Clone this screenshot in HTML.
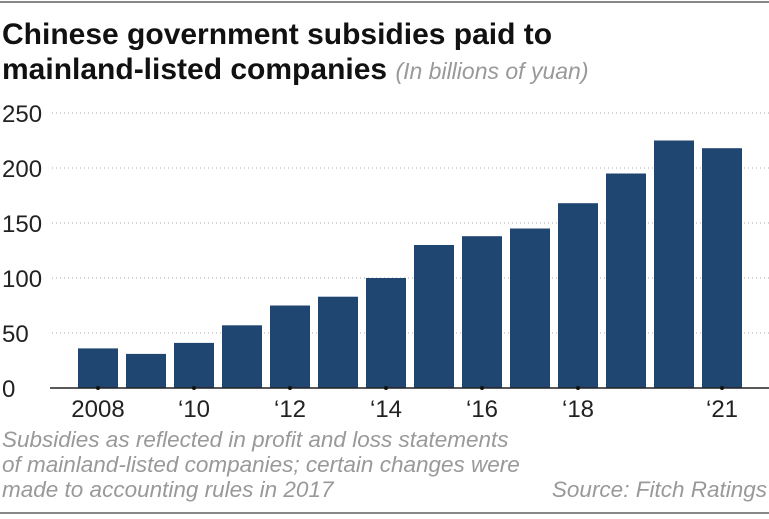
<!DOCTYPE html>
<html><head><meta charset="utf-8"><style>
body{margin:0;background:#fff;width:769px;height:514px;overflow:hidden;font-family:"Liberation Sans",sans-serif;}
</style></head><body>
<svg width="769" height="514" xmlns="http://www.w3.org/2000/svg">
<line x1="0" y1="2" x2="769" y2="2" stroke="#888" stroke-width="2"/>
<text x="2" y="44" font-size="30" font-weight="bold" fill="#111">Chinese government subsidies paid to</text>
<text x="2" y="79" font-size="30" font-weight="bold" fill="#111">mainland-listed companies <tspan font-weight="normal" font-style="italic" font-size="23" fill="#999">(In billions of yuan)</tspan></text>
<g id="grid"></g><g id="bars"></g><g id="xaxis"></g>
<text x="2" y="447" font-size="22.5" font-style="italic" fill="#999">Subsidies as reflected in profit and loss statements</text>
<text x="2" y="472" font-size="22.5" font-style="italic" fill="#999">of mainland-listed companies; certain changes were</text>
<text x="2" y="497" font-size="22.5" font-style="italic" fill="#999">made to accounting rules in 2017</text>
<text x="767" y="497" font-size="22.5" font-style="italic" fill="#999" text-anchor="end">Source: Fitch Ratings</text>
<line x1="0" y1="513" x2="769" y2="513" stroke="#888" stroke-width="2"/>
</svg>
<script>
const years=[2008,2009,2010,2011,2012,2013,2014,2015,2016,2017,2018,2019,2020,2021];
const values=[36,31,41,57,75,83,100,130,138,145,168,195,225,218];
const yTicks=[0,50,100,150,200,250];
const xLabels=["2008","","'10","","'12","","'14","","'16","","'18","","","'21"];
const NS="http://www.w3.org/2000/svg";
const y0=388,pxPer=1.1,x0=78,step=48,bw=40;
const yS=v=>y0-v*pxPer, xS=i=>x0+i*step;
function mk(t,a,p){const e=document.createElementNS(NS,t);for(const k in a)e.setAttribute(k,a[k]);p.appendChild(e);return e;}
const g=document.getElementById('grid'),b=document.getElementById('bars'),xa=document.getElementById('xaxis');
yTicks.forEach(v=>{
  if(v>0){const l=mk('line',{x1:52,x2:769,y1:yS(v),y2:yS(v),stroke:'#aaa','stroke-width':1,'stroke-dasharray':'1,3'},g);
  
  }
  const t=mk('text',{x:2,y:yS(v)+9,'font-size':24,fill:'#222'},g);t.textContent=v;
  
  
});
values.forEach((v,i)=>{
  const r=mk('rect',{x:xS(i),y:yS(v),width:bw,height:v*pxPer,fill:'#1f4670'},b);
  
  
});
const ax=mk('line',{x1:50,x2:769,y1:y0,y2:y0,stroke:'#222','stroke-width':1.5},xa);


xLabels.forEach((s,i)=>{
  if(!s)return;
  const c=mk('circle',{cx:xS(i)+bw/2,cy:y0,r:2,fill:'#111'},xa);
  
  
  const t=mk('text',{x:xS(i)+bw/2,y:y0+29,'font-size':24,fill:'#222','text-anchor':'middle'},xa);
  t.textContent=s.replace("'","\u2018");
  
  
});
</script>
</body></html>
